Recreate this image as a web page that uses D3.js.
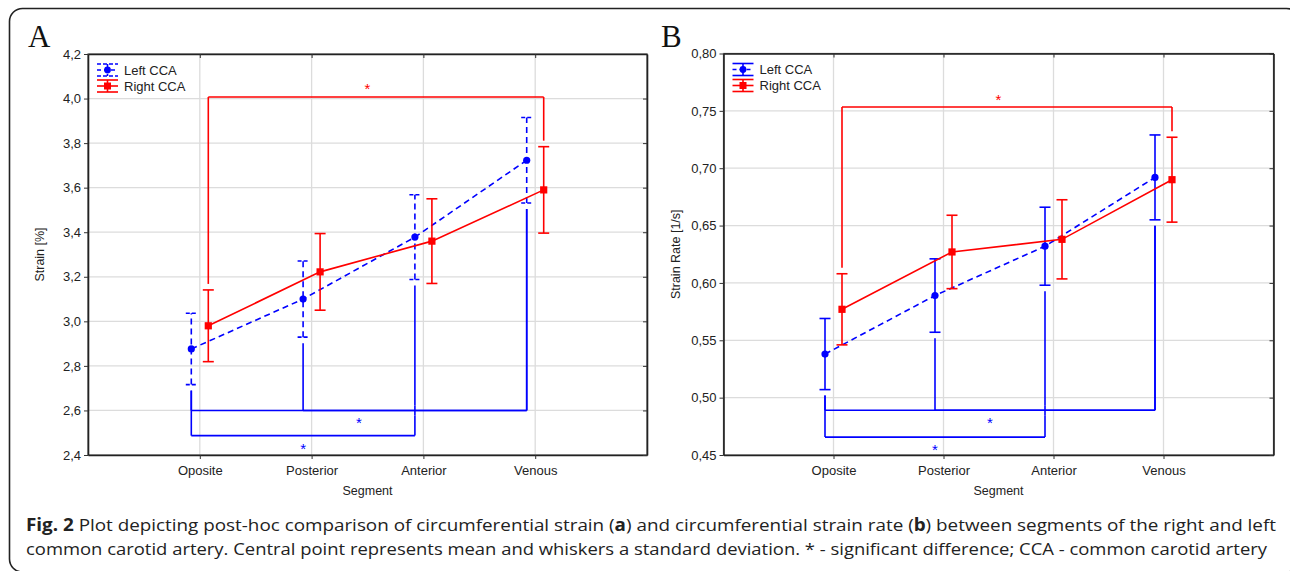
<!DOCTYPE html>
<html>
<head>
<meta charset="utf-8">
<script src="https://cdn.jsdelivr.net/npm/d3@7"></script>
<style>
  body { margin: 0; background: #fff; }
</style>
</head>
<body>
<script>

// data

const segments = ["Oposite", "Posterior", "Anterior", "Venous"];
const seriesNames = ["Left CCA", "Right CCA"];

const strainLeftMean  = [2.876, 3.100, 3.378, 3.723];
const strainLeftSd    = [0.160, 0.171, 0.190, 0.192];
const strainRightMean = [2.980, 3.222, 3.360, 3.590];
const strainRightSd   = [0.161, 0.172, 0.190, 0.194];

const rateLeftMean  = [0.538, 0.589, 0.632, 0.692];
const rateLeftSd    = [0.031, 0.032, 0.034, 0.037];
const rateRightMean = [0.577, 0.627, 0.638, 0.690];
const rateRightSd   = [0.031, 0.032, 0.0345, 0.037];

const strainTicks = [2.4, 2.6, 2.8, 3.0, 3.2, 3.4, 3.6, 3.8, 4.0, 4.2];
const rateTicks   = [0.45, 0.50, 0.55, 0.60, 0.65, 0.70, 0.75, 0.80];

// significant pairs (level = y value of the bracket bar)
const strainBrackets = [
  {series: "right", from: "Oposite", to: "Venous", level: 4.007, star: true},
  {series: "left", from: "Oposite", to: "Venous", level: 2.600, star: true},
  {series: "left", from: "Posterior", to: "Venous", level: 2.600, star: false},
  {series: "left", from: "Oposite", to: "Anterior", level: 2.487, star: true}
];
const rateBrackets = [
  {series: "right", from: "Oposite", to: "Venous", level: 0.7533, star: true},
  {series: "left", from: "Oposite", to: "Venous", level: 0.489, star: true},
  {series: "left", from: "Posterior", to: "Venous", level: 0.489, star: false},
  {series: "left", from: "Oposite", to: "Anterior", level: 0.4656, star: true}
];

const captionLine1 = "Plot depicting post-hoc comparison of circumferential strain (";
const captionLine2 = "common carotid artery. Central point represents mean and whiskers a standard deviation. * - significant difference; CCA - common carotid artery";

const w = 1290;
const h = 571;
const blue = "#0000ff";
const red = "#ff0000";
const sans = "'Liberation Sans', Arial, sans-serif";

const svg = d3.select("body")
  .append("svg")
    .attr("width", w)
    .attr("height", h);

// rounded outer frame
svg.append("rect")
    .attr("x", 9.5).attr("y", 8.5)
    .attr("width", 1290).attr("height", 563.5)
    .attr("rx", 13)
    .attr("fill", "none")
    .attr("stroke", "#222")
    .attr("stroke-width", 1.6);

function drawPanel(cfg) {
  const g = svg.append("g");

  const xScale = d3.scalePoint()
      .domain(segments)
      .range([cfg.left, cfg.right])
      .padding(1);

  const yScale = d3.scaleLinear()
      .domain(d3.extent(cfg.ticks))
      .range([cfg.bottom, cfg.top]);

  const fmt = v => d3.format(cfg.fmt)(v).replace(".", ",");
  const off = {left: -8.5, right: 8.5};

  // grid
  g.append("g").selectAll("line")
    .data(cfg.ticks.slice(1, -1))
    .enter().append("line")
      .attr("x1", cfg.left).attr("x2", cfg.right)
      .attr("y1", d => yScale(d)).attr("y2", d => yScale(d))
      .attr("stroke", "#dcdcdc").attr("stroke-width", 1.3);

  g.append("g").selectAll("line")
    .data(segments)
    .enter().append("line")
      .attr("x1", d => xScale(d)).attr("x2", d => xScale(d))
      .attr("y1", cfg.top).attr("y2", cfg.bottom)
      .attr("stroke", "#dcdcdc").attr("stroke-width", 1.3);

  // frame
  g.append("rect")
      .attr("x", cfg.left).attr("y", cfg.top)
      .attr("width", cfg.right - cfg.left)
      .attr("height", cfg.bottom - cfg.top)
      .attr("fill", "none")
      .attr("stroke", "#555").attr("stroke-width", 1.2);

  // axes
  const yAxis = d3.axisLeft(yScale).tickValues(cfg.ticks).tickFormat(fmt)
      .tickSizeInner(4).tickSizeOuter(0).tickPadding(3);
  const xAxis = d3.axisBottom(xScale).tickSizeInner(4).tickSizeOuter(0).tickPadding(7);

  const ya = g.append("g")
      .attr("transform", `translate(${cfg.left},0)`)
      .call(yAxis);
  const xa = g.append("g")
      .attr("transform", `translate(0,${cfg.bottom})`)
      .call(xAxis);

  g.append("g")
      .attr("transform", `translate(${cfg.right},0)`)
      .call(d3.axisLeft(yScale).tickValues(cfg.ticks).tickSizeInner(4).tickSizeOuter(0).tickFormat(""));
  g.append("g")
      .attr("transform", `translate(0,${cfg.top})`)
      .call(d3.axisBottom(xScale).tickSizeInner(4).tickSizeOuter(0).tickFormat(""));

  g.selectAll(".domain").attr("stroke", "#222").attr("stroke-width", 1.6);
  g.selectAll(".tick line").attr("stroke", "#333");
  [ya, xa].forEach(a => a.selectAll("text")
      .attr("font-size", 13)
      .attr("font-family", sans)
      .attr("fill", "#222"));

  // axis titles
  g.append("text")
      .attr("x", (cfg.left + cfg.right) / 2)
      .attr("y", cfg.bottom + 40)
      .attr("text-anchor", "middle")
      .attr("font-family", sans)
      .attr("font-size", 12.5)
      .attr("fill", "#222")
      .text("Segment");

  g.append("text")
      .attr("transform", `translate(${cfg.left - 44},${(cfg.top + cfg.bottom) / 2}) rotate(-90)`)
      .attr("text-anchor", "middle")
      .attr("font-family", sans)
      .attr("font-size", 12.5)
      .attr("fill", "#222")
      .text(cfg.title);

  // panel letter
  g.append("text")
      .attr("x", cfg.letterX).attr("y", 47)
      .attr("font-family", "'Liberation Serif', 'Times New Roman', serif")
      .attr("font-size", 31)
      .attr("fill", "#111")
      .text(cfg.letter);

  const series = {
    left: {mean: cfg.leftMean, sd: cfg.leftSd, color: blue},
    right: {mean: cfg.rightMean, sd: cfg.rightSd, color: red}
  };
  const px = (s, seg) => xScale(seg) + off[s];

  // brackets
  const bg = g.append("g")
      .attr("fill", "none")
      .attr("stroke-width", 1.6);

  cfg.brackets.forEach(b => {
    const col = series[b.series].color;
    const s = series[b.series];
    const yl = yScale(b.level);
    const xa0 = px(b.series, b.from);
    const xa1 = px(b.series, b.to);

    bg.append("line")
        .attr("x1", xa0).attr("x2", xa1)
        .attr("y1", yl).attr("y2", yl)
        .attr("stroke", col);

    [b.from, b.to].forEach(seg => {
      const k = segments.indexOf(seg);
      const xx = px(b.series, seg);
      const start = b.series === "left"
        ? yScale(s.mean[k] - s.sd[k]) + 6
        : yScale(s.mean[k] + s.sd[k]) - 6;

      // break the leg where it passes through another bar
      const cuts = cfg.brackets
        .filter(c => c !== b && c.series === b.series)
        .map(c => ({y: yScale(c.level), x0: px(c.series, c.from), x1: px(c.series, c.to)}))
        .filter(c => xx > c.x0 + 1 && xx < c.x1 - 1 &&
                     c.y > Math.min(start, yl) + 1 && c.y < Math.max(start, yl) - 1)
        .map(c => c.y);

      const ys = [start].concat(cuts).concat([yl]).sort((a, b) => a - b);
      for (let i = 0; i < ys.length - 1; i++) {
        let a = ys[i], e = ys[i + 1];
        if (i > 0) a += 5;
        if (i < ys.length - 2) e -= 5;
        bg.append("line")
            .attr("x1", xx).attr("x2", xx)
            .attr("y1", a).attr("y2", e)
            .attr("stroke", col);
      }
    });

    if (b.star) {
      const mid = (xScale(b.from) + xScale(b.to)) / 2 + (b.series === "left" ? off.left : 0);
      bg.append("text")
          .attr("x", mid)
          .attr("y", b.series === "left" ? yl + 18 : yl - 2.5)
          .attr("text-anchor", "middle")
          .attr("font-family", sans)
          .attr("font-size", 15)
          .attr("stroke", "none")
          .attr("fill", col)
          .text("*");
    }
  });

  // mean lines, whiskers, markers
  ["left", "right"].forEach(key => {
    const s = series[key];
    const pts = segments.map((seg, i) => ({seg: seg, m: s.mean[i], sd: s.sd[i]}));
    const sg = g.append("g");

    const line = d3.line()
        .x(d => px(key, d.seg))
        .y(d => yScale(d.m));

    sg.append("path")
        .datum(pts)
        .attr("d", line)
        .attr("fill", "none")
        .attr("stroke", s.color)
        .attr("stroke-width", 1.6)
        .attr("stroke-dasharray", key === "left" ? "6,4" : null);

    const dash = key === "left" ? cfg.leftWhiskerDash : null;

    sg.selectAll(".wk")
      .data(pts)
      .enter().append("line")
        .attr("x1", d => px(key, d.seg)).attr("x2", d => px(key, d.seg))
        .attr("y1", d => yScale(d.m - d.sd)).attr("y2", d => yScale(d.m + d.sd))
        .attr("stroke", s.color).attr("stroke-width", 1.6)
        .attr("stroke-dasharray", dash);

    [-1, 1].forEach(sign => {
      sg.selectAll(".cap" + sign)
        .data(pts)
        .enter().append("line")
          .attr("x1", d => px(key, d.seg) - 5.5).attr("x2", d => px(key, d.seg) + 5.5)
          .attr("y1", d => yScale(d.m + sign * d.sd)).attr("y2", d => yScale(d.m + sign * d.sd))
          .attr("stroke", s.color).attr("stroke-width", 1.6)
          .attr("stroke-dasharray", dash ? "4,2" : null);
    });

    if (key === "left") {
      sg.selectAll("circle")
        .data(pts)
        .enter().append("circle")
          .attr("cx", d => px(key, d.seg))
          .attr("cy", d => yScale(d.m))
          .attr("r", 3.6)
          .attr("fill", s.color);
    } else {
      sg.selectAll(".mk")
        .data(pts)
        .enter().append("rect")
          .attr("x", d => px(key, d.seg) - 3.6)
          .attr("y", d => yScale(d.m) - 3.6)
          .attr("width", 7.2).attr("height", 7.2)
          .attr("fill", s.color);
    }
  });

  // legend
  const lg = g.append("g")
      .attr("transform", `translate(${cfg.left + 9},${cfg.top + 16})`);

  ["left", "right"].forEach((key, i) => {
    const s = series[key];
    const item = lg.append("g").attr("transform", `translate(0,${i * 16})`);
    const dash = key === "left" ? cfg.leftWhiskerDash : null;
    [-6, 6].forEach(dy => item.append("line")
        .attr("x1", 0).attr("x2", 21).attr("y1", dy).attr("y2", dy)
        .attr("stroke", s.color).attr("stroke-width", 1.6)
        .attr("stroke-dasharray", dash ? "4,2" : null));
    item.append("line")
        .attr("x1", 10.5).attr("x2", 10.5).attr("y1", -6).attr("y2", 6)
        .attr("stroke", s.color).attr("stroke-width", 1.6)
        .attr("stroke-dasharray", dash);
    item.append("line")
        .attr("x1", 0).attr("x2", 21).attr("y1", 0).attr("y2", 0)
        .attr("stroke", s.color).attr("stroke-width", 1.6)
        .attr("stroke-dasharray", key === "left" ? "4,3" : null);
    if (key === "left") {
      item.append("circle").attr("cx", 10.5).attr("cy", 0).attr("r", 3.4).attr("fill", s.color);
    } else {
      item.append("rect").attr("x", 7).attr("y", -3.5).attr("width", 7).attr("height", 7).attr("fill", s.color);
    }
    item.append("text")
        .attr("x", 27).attr("y", 4.5)
        .attr("font-family", sans)
        .attr("font-size", 13)
        .attr("fill", "#222")
        .text(seriesNames[i]);
  });
}

drawPanel({
  left: 88, right: 647, top: 54, bottom: 455,
  ticks: strainTicks, fmt: ".1f",
  title: "Strain [%]", letter: "A", letterX: 28,
  leftMean: strainLeftMean, leftSd: strainLeftSd,
  rightMean: strainRightMean, rightSd: strainRightSd,
  brackets: strainBrackets,
  leftWhiskerDash: "6,4"
});

drawPanel({
  left: 723.5, right: 1273.5, top: 53.5, bottom: 455,
  ticks: rateTicks, fmt: ".2f",
  title: "Strain Rate [1/s]", letter: "B", letterX: 661,
  leftMean: rateLeftMean, leftSd: rateLeftSd,
  rightMean: rateRightMean, rightSd: rateRightSd,
  brackets: rateBrackets,
  leftWhiskerDash: null
});

// caption
const cap = svg.append("g")
    .attr("font-size", 17)
    .attr("fill", "#222")
    .attr("font-family", "'Open Sans', 'Noto Sans', sans-serif");

const t1 = cap.append("text")
    .attr("x", 26).attr("y", 531)
    .attr("textLength", 1250)
    .attr("lengthAdjust", "spacingAndGlyphs");
t1.append("tspan").attr("font-weight", "bold").text("Fig. 2");
t1.append("tspan").text(" " + captionLine1);
t1.append("tspan").attr("font-weight", "bold").text("a");
t1.append("tspan").text(") and circumferential strain rate (");
t1.append("tspan").attr("font-weight", "bold").text("b");
t1.append("tspan").text(") between segments of the right and left");

cap.append("text")
    .attr("x", 26).attr("y", 555)
    .attr("textLength", 1241)
    .attr("lengthAdjust", "spacingAndGlyphs")
    .text(captionLine2);

</script>
</body>
</html>
